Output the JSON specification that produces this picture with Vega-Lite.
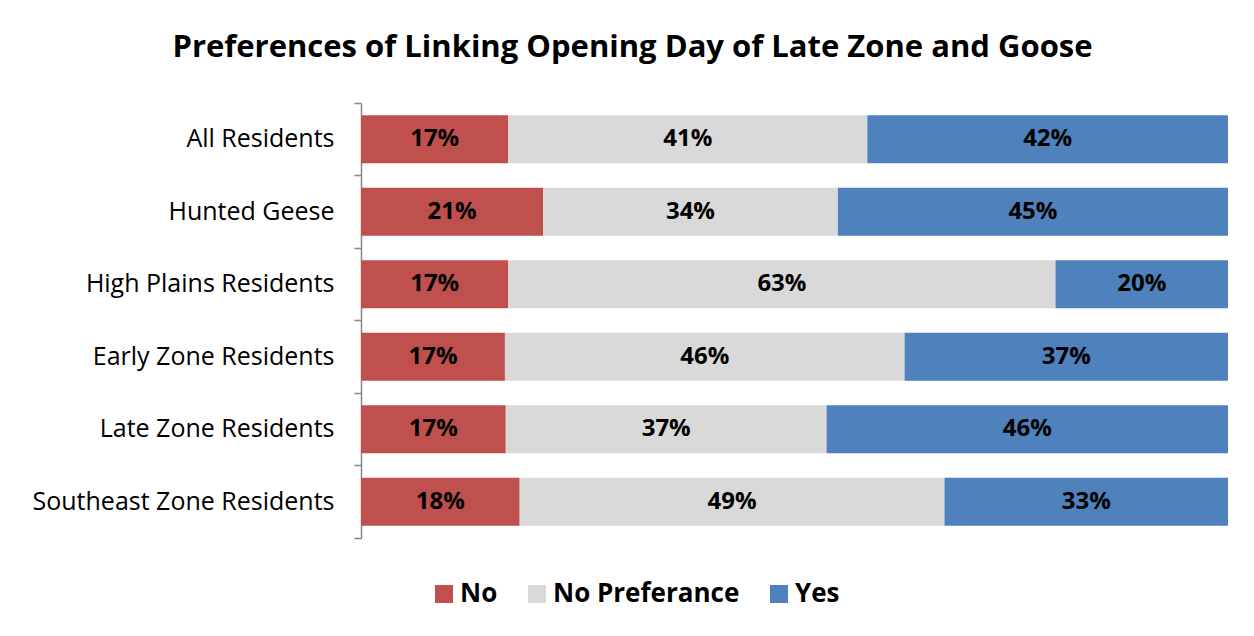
{
  "$schema": "https://vega.github.io/schema/vega-lite/v6.json",
  "width": 867,
  "height": 435,
  "autosize": {"type": "none"},
  "padding": {"left": 361, "top": 103, "right": 26, "bottom": 98},
  "background": "white",
  "title": {
    "text": "Preferences of Linking Opening Day of Late Zone and Goose",
    "font": "Open Sans",
    "fontSize": 31,
    "fontWeight": "bold",
    "color": "#000000",
    "anchor": "middle",
    "dx": -162,
    "offset": 27
  },
  "data": {
    "values": [
      {"group": "All Residents", "resp": "No", "value": 0.170},
      {"group": "All Residents", "resp": "No Preferance", "value": 0.414},
      {"group": "All Residents", "resp": "Yes", "value": 0.416},
      {"group": "Hunted Geese", "resp": "No", "value": 0.210},
      {"group": "Hunted Geese", "resp": "No Preferance", "value": 0.340},
      {"group": "Hunted Geese", "resp": "Yes", "value": 0.450},
      {"group": "High Plains Residents", "resp": "No", "value": 0.170},
      {"group": "High Plains Residents", "resp": "No Preferance", "value": 0.631},
      {"group": "High Plains Residents", "resp": "Yes", "value": 0.199},
      {"group": "Early Zone Residents", "resp": "No", "value": 0.166},
      {"group": "Early Zone Residents", "resp": "No Preferance", "value": 0.461},
      {"group": "Early Zone Residents", "resp": "Yes", "value": 0.373},
      {"group": "Late Zone Residents", "resp": "No", "value": 0.167},
      {"group": "Late Zone Residents", "resp": "No Preferance", "value": 0.370},
      {"group": "Late Zone Residents", "resp": "Yes", "value": 0.463},
      {"group": "Southeast Zone Residents", "resp": "No", "value": 0.183},
      {"group": "Southeast Zone Residents", "resp": "No Preferance", "value": 0.490},
      {"group": "Southeast Zone Residents", "resp": "Yes", "value": 0.327}
    ]
  },
  "transform": [
    {"stack": "value", "groupby": ["group"], "sort": [{"field": "resp", "order": "ascending"}], "as": ["x0", "x1"]},
    {"calculate": "(datum.x0 + datum.x1) / 2", "as": "mid"}
  ],
  "encoding": {
    "y": {
      "field": "group",
      "type": "nominal",
      "sort": null,
      "scale": {"paddingInner": 0, "paddingOuter": 0},
      "axis": {
        "title": null,
        "domainColor": "#868686",
        "domainWidth": 1.5,
        "tickColor": "#868686",
        "tickWidth": 1.5,
        "tickSize": 7,
        "bandPosition": 1,
        "tickExtra": true,
        "labelFont": "Open Sans",
        "labelFontSize": 25,
        "labelColor": "#000000",
        "labelPadding": 20,
        "labelLimit": 0
      }
    }
  },
  "layer": [
    {
      "mark": {"type": "bar", "height": {"band": 0.66}},
      "encoding": {
        "x": {"field": "x0", "type": "quantitative", "scale": {"domain": [0, 1], "nice": false}, "axis": null},
        "x2": {"field": "x1"},
        "color": {
          "field": "resp",
          "type": "nominal",
          "scale": {"domain": ["No", "No Preferance", "Yes"], "range": ["#C0504D", "#D9D9D9", "#4F81BD"]},
          "legend": {
            "title": null,
            "orient": "none",
            "direction": "horizontal",
            "legendX": 70,
            "legendY": 478,
            "padding": 0,
            "symbolType": "square",
            "symbolSize": 324,
            "symbolStrokeWidth": 0,
            "labelFont": "Open Sans",
            "labelFontSize": 26,
            "labelFontWeight": "bold",
            "labelColor": "#000000",
            "labelOffset": 3,
            "labelLimit": 0,
            "columnPadding": 26
          }
        }
      }
    },
    {
      "mark": {"type": "text", "font": "Open Sans", "fontSize": 24, "fontWeight": "bold", "color": "#000000"},
      "encoding": {
        "x": {"field": "mid", "type": "quantitative"},
        "text": {"field": "value", "type": "quantitative", "format": ".0%"}
      }
    }
  ],
  "config": {"view": {"stroke": null}}
}
